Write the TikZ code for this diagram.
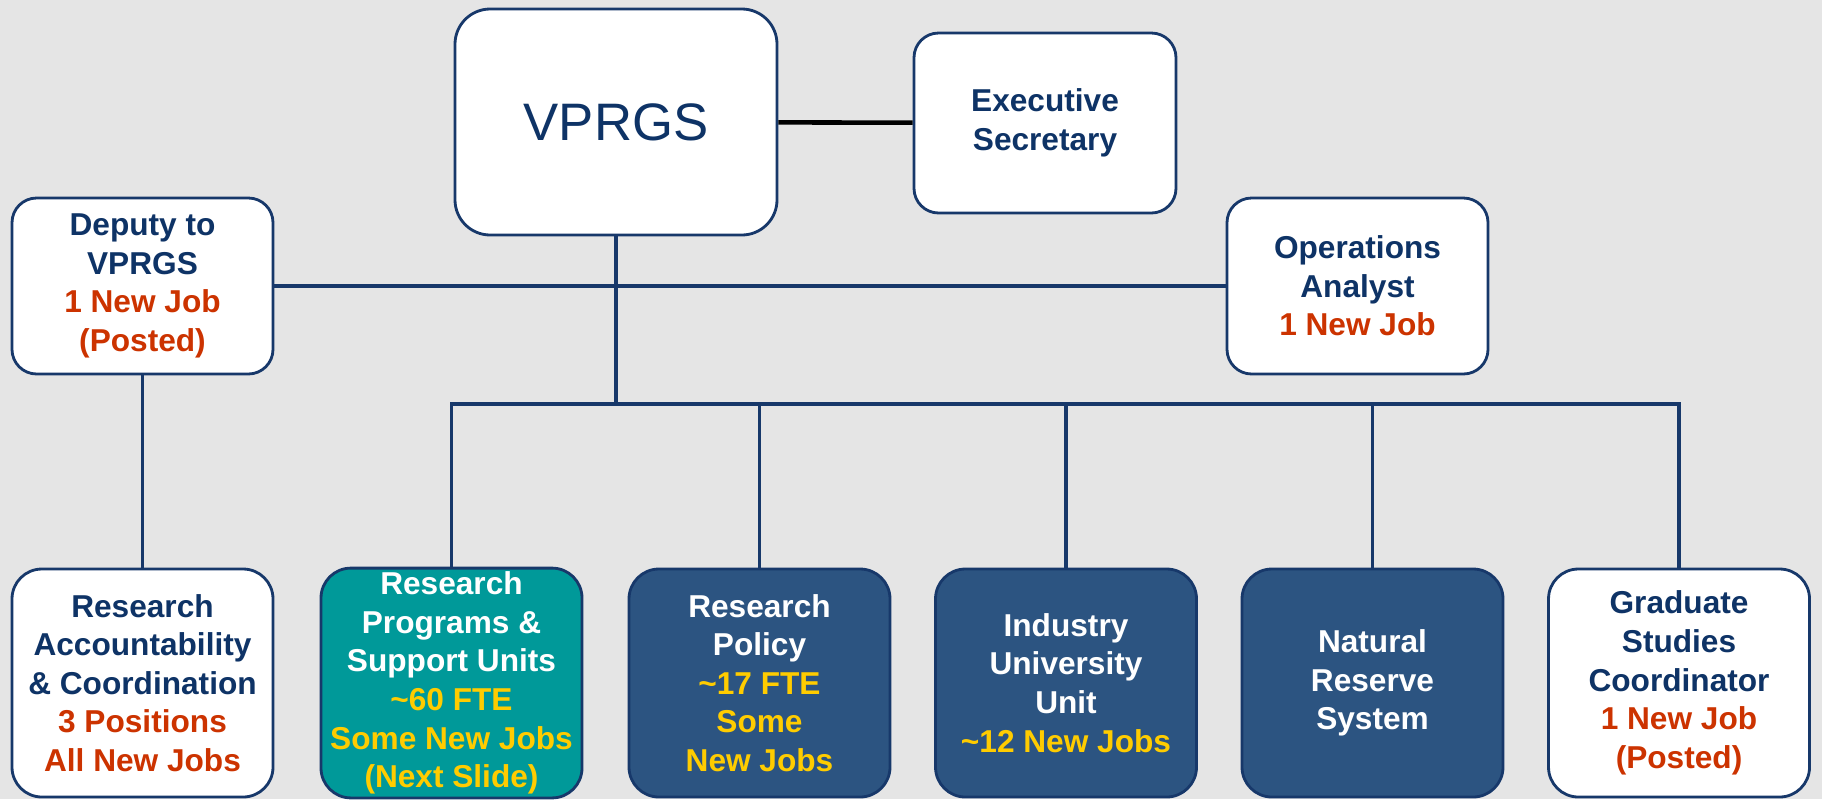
\documentclass[tikz,border=0pt]{standalone}
\usepackage{fontspec}
\setmainfont{Liberation Sans}
\definecolor{navytext}{HTML}{0E3366}
\definecolor{boxline}{HTML}{17386A}
\definecolor{jobred}{HTML}{CC3300}
\definecolor{jobyellow}{HTML}{FFCC00}
\definecolor{unitteal}{HTML}{009999}
\definecolor{unitblue}{HTML}{2C5481}
\definecolor{granite}{HTML}{E5E5E5}
\newcommand{\newjob}[1]{{\color{jobred}#1}}
\newcommand{\fte}[1]{{\color{jobyellow}#1}}
\tikzset{
  orgbox/.style={draw=boxline, line width=0.8pt, rounded corners=7pt, fill=white,
    text=navytext, align=center, font=\fontsize{9}{11}\selectfont\bfseries,
    minimum width=2.61cm, minimum height=1.76cm, inner sep=1pt},
  unitbox/.style={orgbox, rounded corners=8.5pt, minimum height=2.28cm},
  link/.style={draw=boxline, line width=1.1pt}
}
\begin{document}
\begin{tikzpicture}
    \fill[granite] (0,0) rectangle (18.22,-7.99);
    \useasboundingbox (0,0) rectangle (18.22,-7.99);
    \pgfmathsetmacro{\boty}{-6.83}
    \node[orgbox, rounded corners=10pt, minimum width=3.22cm, minimum height=2.26cm,
      font=\fontsize{15}{18}\selectfont] (vprgs) at (6.16,-1.22) {VPRGS};
    \node[orgbox, minimum width=2.62cm, minimum height=1.80cm] (exec) at (10.45,-1.23) {Executive\\Secretary};
    \node[orgbox] (deputy) at (1.425,-2.86) {Deputy to\\VPRGS\\\newjob{1 New Job}\\\newjob{(Posted)}};
    \node[orgbox] (ops) at (13.575,-2.86) {Operations\\Analyst\\\newjob{1 New Job}};
    \node[unitbox] (rac) at (1.425,\boty) {Research\\Accountability\\\& Coordination\\\newjob{3 Positions}\\\newjob{All New Jobs}};
    \node[unitbox, fill=unitteal, text=white] (rpsu) at (4.515,\boty) {Research\\Programs \&\\Support Units\\\fte{\textasciitilde60 FTE}\\\fte{Some New Jobs}\\\fte{(Next Slide)}};
    \node[unitbox, fill=unitblue, text=white] (policy) at (7.595,\boty) {Research\\Policy\\\fte{\textasciitilde17 FTE}\\\fte{Some}\\\fte{New Jobs}};
    \node[unitbox, fill=unitblue, text=white] (iuu) at (10.66,\boty) {Industry\\University\\Unit\\\fte{\textasciitilde12 New Jobs}};
    \node[unitbox, fill=unitblue, text=white] (nrs) at (13.725,\boty) {Natural\\Reserve\\System};
    \node[unitbox] (grad) at (16.79,\boty) {Graduate\\Studies\\Coordinator\\\newjob{1 New Job}\\\newjob{(Posted)}};
    \draw[black, line width=1.3pt] (vprgs) -- (exec);
    \draw[link] (deputy) -- (ops);
    \draw[link] (deputy) -- (rac);
    \draw[link] (vprgs.south) -- ++(0,-1.68) coordinate (bus);
    \foreach \unit in {rpsu,policy,iuu,nrs,grad}
      \draw[link] (\unit.north) |- (bus);
\end{tikzpicture}
\end{document}
